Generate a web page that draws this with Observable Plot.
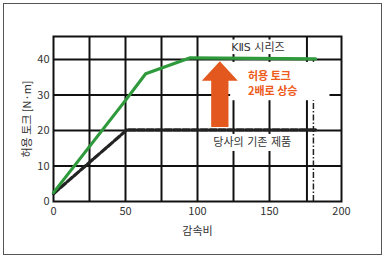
<!DOCTYPE html>
<html><head><meta charset="utf-8">
<script src="https://cdn.jsdelivr.net/npm/d3@7"></script>
<script src="https://cdn.jsdelivr.net/npm/@observablehq/plot@0.6"></script>
<style>body{margin:0;background:#fff}</style>
</head><body><div id="chart"></div>
<script>
// data
const kiisX = [0, 50, 64, 95, 182];
const kiisY = [2.5, 28.5, 36, 40.5, 40.2];
const oldX = [0, 51, 182];
const oldY = [2.2, 20.2, 20.2];
const xTicks = [0, 50, 100, 150, 200];
const yTicks = [0, 10, 20, 30, 40];
const xGrid = [25, 50, 75, 100, 125, 150, 176];
const yGrid = [10, 20, 30, 40];
const limitX = [180.5];
// annotations
const arrowSpec = {x: 115.5, y0: 21, yHead: 34, yTip: 39.5, shaft: 6, head: 12.5};
const seriesLabels = [
  {x: 142, y: 43.4, text: "KⅡS 시리즈"},
  {x: 138, y: 16.6, text: "당사의 기존 제품"}
];
const noteLabels = [
  {x: 135, y: 35.1, text: "허용 토크"},
  {x: 135, y: 31.0, text: "2배로 상승"}
];
const boxes = [
  {x1: 123, x2: 192, y1: 28.4, y2: 39.2},
  {x1: 121, x2: 165, y1: 41.4, y2: 45.5},
  {x1: 109, x2: 168, y1: 14.1, y2: 18.9}
];

const kiis = kiisX.map((x, i) => ({x, y: kiisY[i]}));
const old = oldX.map((x, i) => ({x, y: oldY[i]}));
const a = arrowSpec;
const arrowPoly = [
  [a.x - a.shaft, a.y0], [a.x - a.shaft, a.yHead], [a.x - a.head, a.yHead], [a.x, a.yTip],
  [a.x + a.head, a.yHead], [a.x + a.shaft, a.yHead], [a.x + a.shaft, a.y0]
].map(([x, y]) => ({x, y}));

const font = "'Noto Sans CJK KR', 'Noto Sans', sans-serif";
const chart = Plot.plot({
  width: 384, height: 257,
  marginLeft: 53, marginRight: 43, marginTop: 36, marginBottom: 56,
  style: {fontFamily: font, fontSize: "11px", color: "#333", background: "#fff"},
  x: {domain: [0, 200], ticks: xTicks, tickSize: 0, tickPadding: 6, label: "감속비", labelAnchor: "center", labelOffset: 33, labelArrow: "none"},
  y: {domain: [0, 46.5], ticks: yTicks, tickSize: 0, tickPadding: 4, label: "허용 토크 [N·m]", labelAnchor: "center", labelOffset: 30, labelArrow: "none"},
  marks: [
    Plot.frame({stroke: "#555", strokeWidth: 1, insetLeft: -50, insetTop: -33, insetRight: -40, insetBottom: -53}),
    Plot.ruleX(xGrid, {stroke: "#111", strokeWidth: 2}),
    Plot.ruleY(yGrid, {stroke: "#111", strokeWidth: 2}),
    Plot.ruleX(limitX, {y1: 0, y2: 40, stroke: "#222", strokeWidth: 1.5, strokeDasharray: "6,2,1.5,2"}),
    Plot.rect(boxes, {x1: "x1", x2: "x2", y1: "y1", y2: "y2", fill: "white"}),
    Plot.frame({stroke: "#111", strokeWidth: 2}),
    Plot.line(old, {x: "x", y: "y", stroke: "#222", strokeWidth: 3.2, strokeDasharray: "7,2"}),
    Plot.line(kiis, {x: "x", y: "y", stroke: "#2f9a3c", strokeWidth: 3.2}),
    Plot.line(arrowPoly, {x: "x", y: "y", fill: "#e2581f", stroke: "none"}),
    Plot.text(seriesLabels, {x: "x", y: "y", text: "text", textAnchor: "middle", fill: "#333", fontSize: 11, fontFamily: "'DejaVu Sans', 'Noto Sans CJK KR', sans-serif"}),
    Plot.text(noteLabels, {x: "x", y: "y", text: "text", textAnchor: "start", fill: "#ee5a1a", fontWeight: "bold", fontSize: 11, lineHeight: 1})
  ]
});
document.getElementById("chart").appendChild(chart);
</script>
</body></html>
